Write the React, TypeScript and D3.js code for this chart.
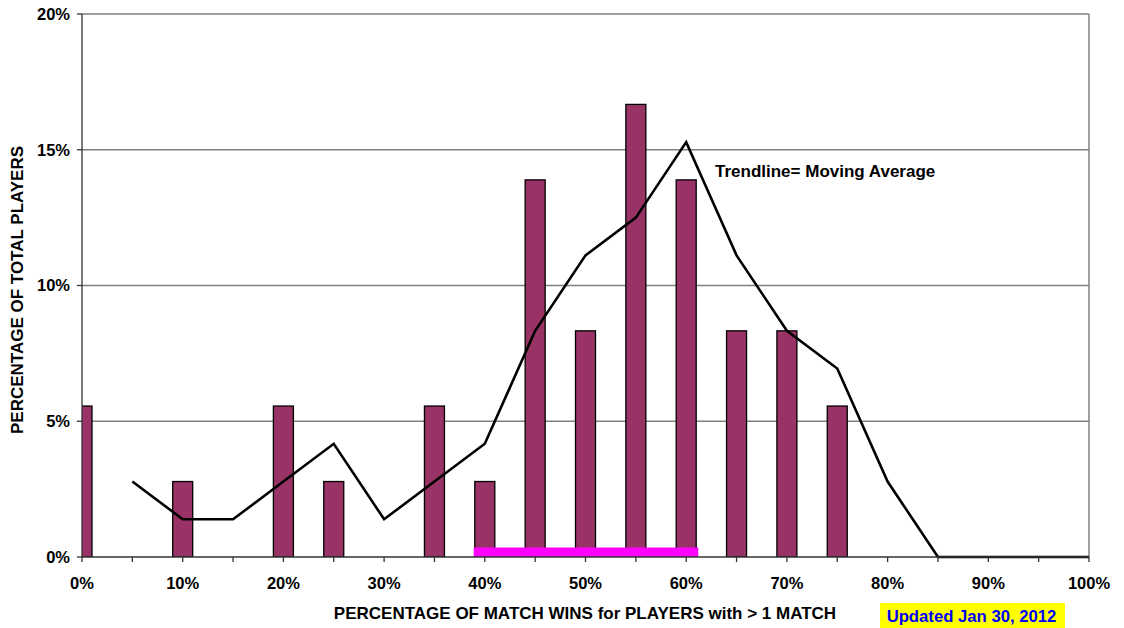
import React from "react";
import * as d3 from "d3";

const barX = [0, 10, 20, 25, 35, 40, 45, 50, 55, 60, 65, 70, 75];
const barY = [5.56, 2.78, 5.56, 2.78, 5.56, 2.78, 13.89, 8.33, 16.67, 13.89, 8.33, 8.33, 5.56];
const trendX = [5, 10, 15, 20, 25, 30, 35, 40, 45, 50, 55, 60, 65, 70, 75, 80, 85, 90, 95, 100];
const trendY = [2.78, 1.39, 1.39, 2.78, 4.17, 1.39, 2.78, 4.17, 8.33, 11.11, 12.5, 15.28, 11.11, 8.33, 6.94, 2.78, 0, 0, 0, 0];
const yTicks = [0, 5, 10, 15, 20];
const xTicks = [0, 5, 10, 15, 20, 25, 30, 35, 40, 45, 50, 55, 60, 65, 70, 75, 80, 85, 90, 95, 100];
const xLabels = [0, 10, 20, 30, 40, 50, 60, 70, 80, 90, 100];
const highlightRange = [38.9, 61.2];

export default function App() {
  const W = 1124, H = 628;
  const L = 82, R = 1089, T = 14, B = 557;
  const x = d3.scaleLinear().domain([0, 100]).range([L, R]);
  const y = d3.scaleLinear().domain([0, 20]).range([B, T]);
  const bw = 20;
  const line = d3.line<number>().x((_, i) => x(trendX[i])).y((d) => y(d));
  const font = "Arial, 'Liberation Sans', sans-serif";
  return (
    <svg width={W} height={H} style={{ position: "absolute", left: 0, top: 0 }} fontFamily={font}>
      <rect x={0} y={0} width={W} height={H} fill="#fff" />
      {yTicks.filter((t) => t > 0).map((t) => (
        <line key={t} x1={L} x2={R} y1={y(t)} y2={y(t)} stroke="#808080" strokeWidth={1.3} />
      ))}
      <line x1={R} x2={R} y1={T} y2={B} stroke="#808080" strokeWidth={1.5} />
      <defs>
        <clipPath id="plot">
          <rect x={L} y={T - 2} width={R - L} height={B - T + 2} />
        </clipPath>
      </defs>
      <g clipPath="url(#plot)">
        {barX.map((bx, i) => (
          <rect key={bx} x={x(bx) - bw / 2} y={y(barY[i])} width={bw} height={B - y(barY[i])}
            fill="#993366" stroke="#000" strokeWidth={1.3} />
        ))}
      </g>
      <rect x={x(highlightRange[0])} y={B - 9.5} width={x(highlightRange[1]) - x(highlightRange[0])} height={9.5} fill="#ff00ff" />
      <path d={line(trendY) || ""} fill="none" stroke="#000" strokeWidth={2.6} strokeLinejoin="miter" />
      <line x1={L} x2={L} y1={T} y2={B} stroke="#333" strokeWidth={1.3} />
      <line x1={L} x2={R} y1={B} y2={B} stroke="#333" strokeWidth={1.3} />
      {yTicks.map((t) => (
        <g key={t}>
          <line x1={L - 5} x2={L} y1={y(t)} y2={y(t)} stroke="#333" strokeWidth={1.3} />
          <text x={70} y={y(t)} dy="0.35em" textAnchor="end" fontSize={16.5} fontWeight="bold">{t}%</text>
        </g>
      ))}
      {xTicks.map((t) => (
        <line key={t} x1={x(t)} x2={x(t)} y1={B} y2={B + 5} stroke="#333" strokeWidth={1.3} />
      ))}
      {xLabels.map((t) => (
        <text key={t} x={x(t)} y={589} textAnchor="middle" fontSize={16.5} fontWeight="bold">{t}%</text>
      ))}
      <text transform={`translate(23,290) rotate(-90)`} textAnchor="middle" fontSize={17} fontWeight="bold">PERCENTAGE OF TOTAL PLAYERS</text>
      <text x={585} y={619} textAnchor="middle" fontSize={17} fontWeight="bold">PERCENTAGE OF MATCH WINS for PLAYERS with &gt; 1 MATCH</text>
      <text x={715} y={177} fontSize={17} fontWeight="bold">Trendline= Moving Average</text>
      <rect x={880} y={603} width={185} height={25} fill="#ffff00" />
      <text x={971.5} y={621.5} textAnchor="middle" fontSize={16.7} fontWeight="bold" fill="#0000ff">Updated Jan 30, 2012</text>
    </svg>
  );
}
